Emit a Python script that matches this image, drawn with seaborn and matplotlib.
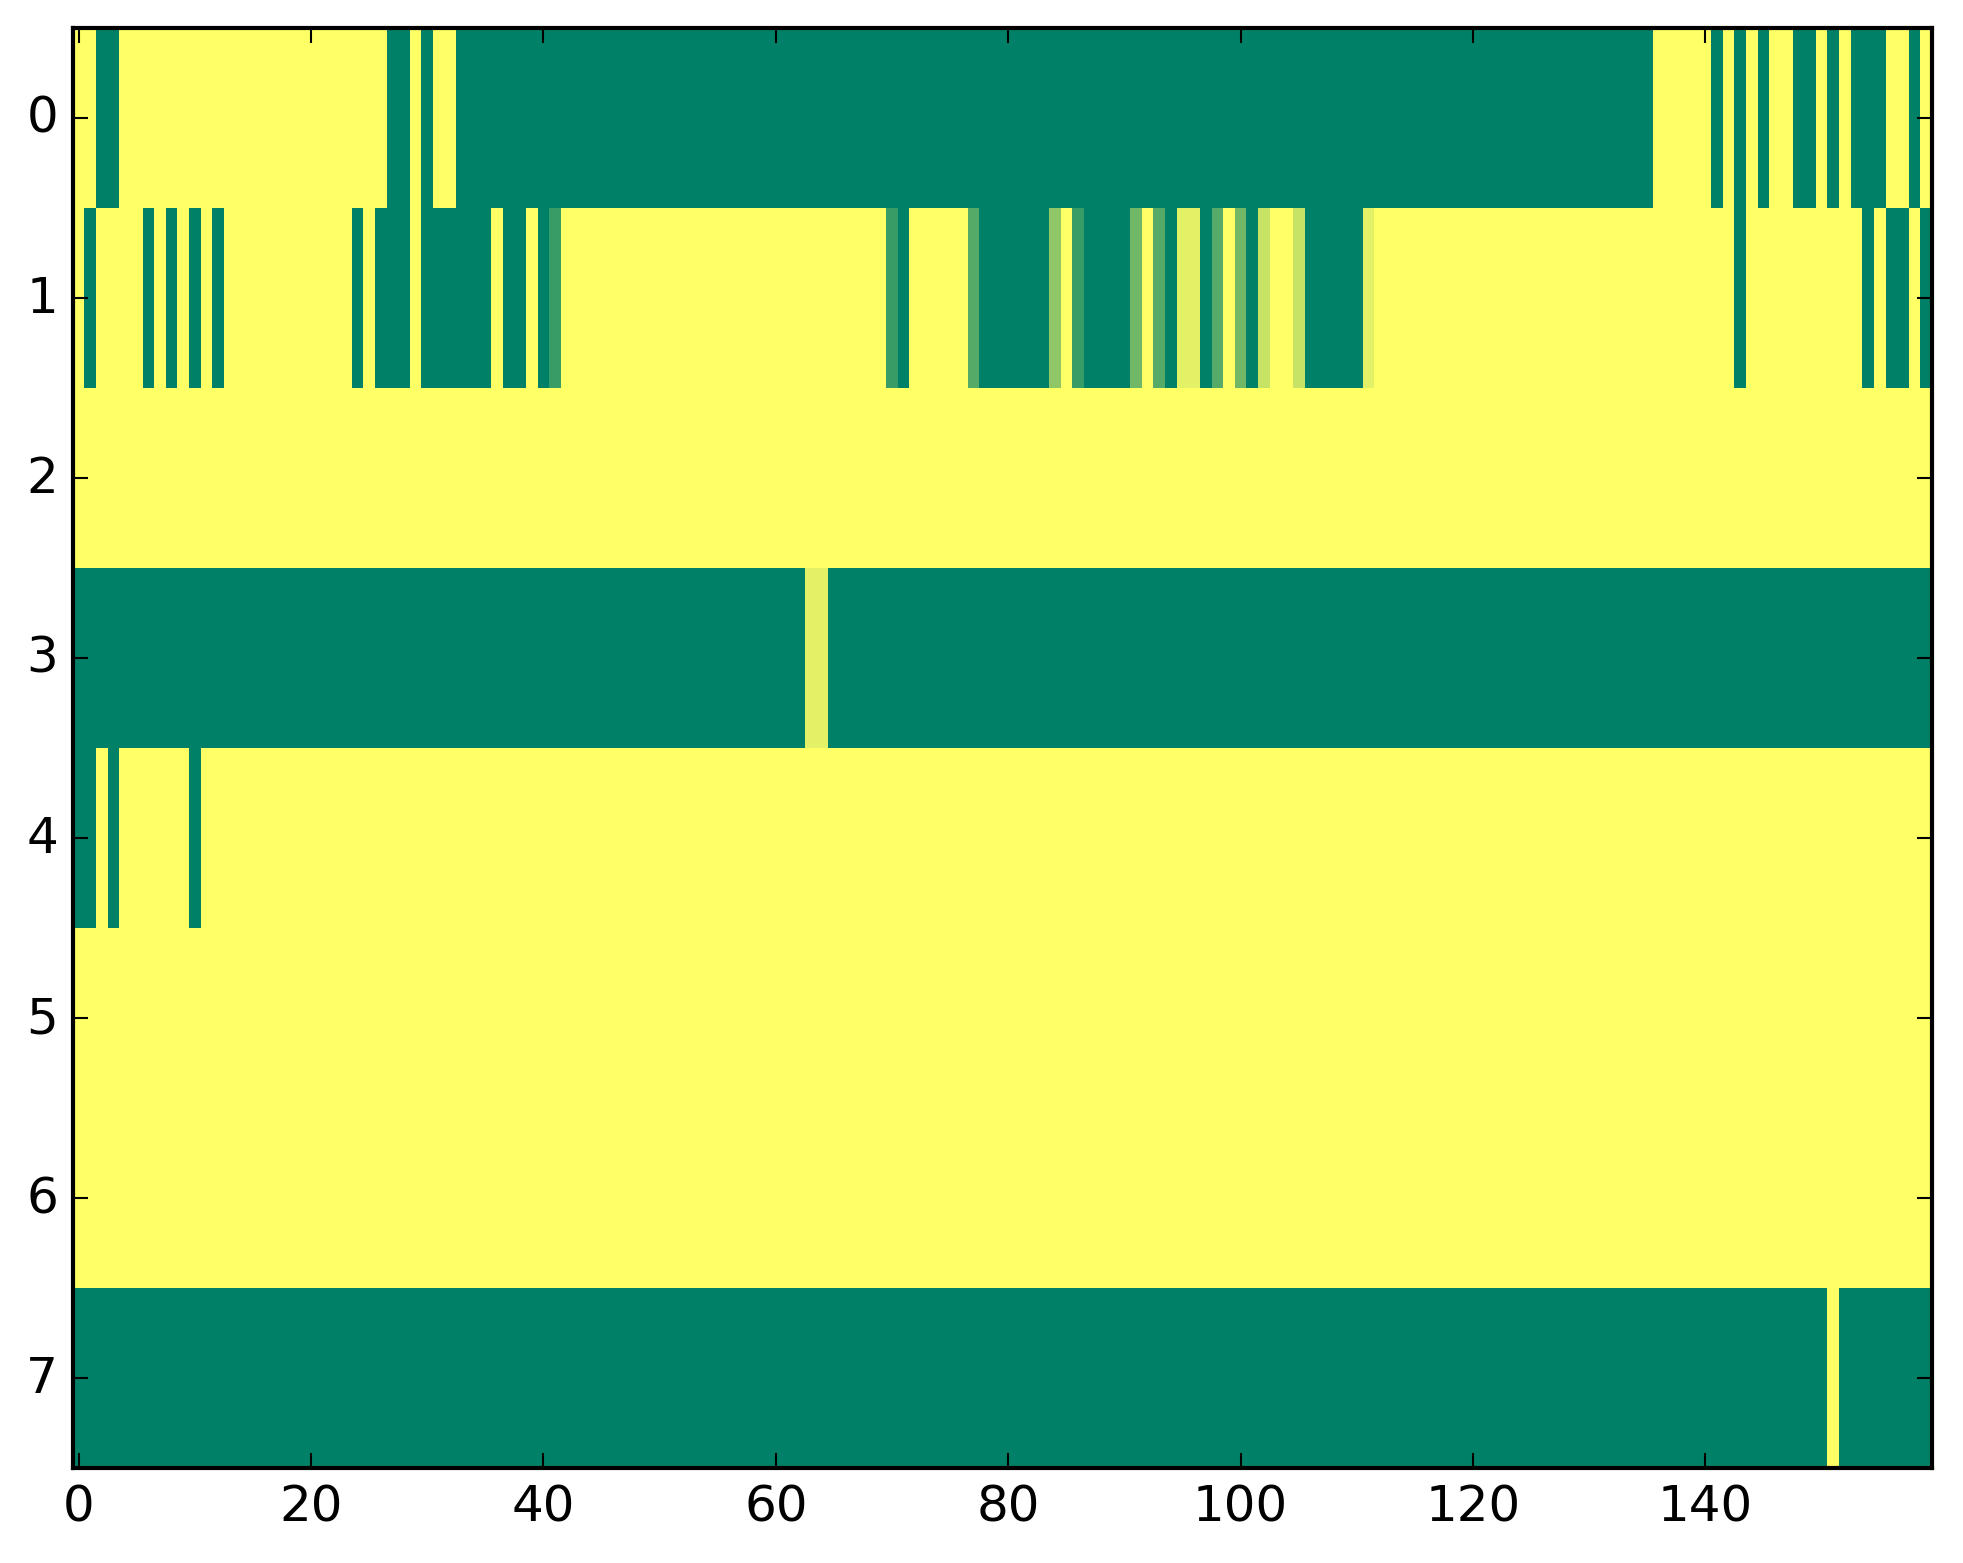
import numpy as np
import pandas as pd
import matplotlib
matplotlib.use('Agg')
import matplotlib.pyplot as plt
import seaborn as sns

# cell codes, one string per row, 20 columns per chunk
# '#' = dark green (0), '.' = yellow (1), letters = in-between shades
levels = {'#': 0.0, '.': 1.0, 'a': 0.22, 'b': 0.33, 'c': 0.44,
          'd': 0.56, 'e': 0.78, 'f': 0.89}

row0 = ('..##................' '.......##.#..#######' '####################'
        '####################' '####################' '####################'
        '################....' '.#.#.#..##.#.###..#.')
row1 = ('.#....#.#.#.#.......' '....#.###.######.##.' '#a..................'
        '..........a#.....b##' '####d.a####c.b#ff#b.' 'c#e..e#####f........'
        '....................' '...#..........#.##.#')
row2 = ('....................' '....................' '....................'
        '....................' '....................' '....................'
        '....................' '....................')
row3 = ('####################' '####################' '####################'
        '###ff###############' '####################' '####################'
        '####################' '####################')
row4 = ('##.#......#.........' '....................' '....................'
        '....................' '....................' '....................'
        '....................' '....................')
row5 = ('....................' '....................' '....................'
        '....................' '....................' '....................'
        '....................' '....................')
row6 = ('....................' '....................' '....................'
        '....................' '....................' '....................'
        '....................' '....................')
row7 = ('####################' '####################' '####################'
        '####################' '####################' '####################'
        '####################' '###########.########')

rows = [row0, row1, row2, row3, row4, row5, row6, row7]
xtick_vals = [0, 20, 40, 60, 80, 100, 120, 140]
ytick_vals = [0, 1, 2, 3, 4, 5, 6, 7]

grid = pd.DataFrame([[levels[ch] for ch in r] for r in rows])

plt.rcParams['font.family'] = ['DejaVu Sans']
plt.rcParams['font.size'] = 12

fig = plt.figure(figsize=(1963 / 300, 1564 / 300), dpi=300)
ax = fig.add_axes([0.0371, 0.0607, 0.9471, 0.9208])
sns.heatmap(grid, cmap='summer', vmin=0, vmax=1, cbar=False, ax=ax)

# imshow-like ticks: cell centres
ax.set_xticks(np.array(xtick_vals) + 0.5)
ax.set_xticklabels([str(v) for v in xtick_vals], rotation=0)
ax.set_yticks(np.array(ytick_vals) + 0.5)
ax.set_yticklabels([str(v) for v in ytick_vals], rotation=0, va='center')

for s in ax.spines.values():
    s.set_visible(True)
    s.set_linewidth(1.0)
    s.set_color('black')

ax.tick_params(direction='in', top=True, right=True, length=3.6, width=0.5,
               pad=3.5, labelsize=12, colors='black')

fig.savefig('out.png', dpi=300)
